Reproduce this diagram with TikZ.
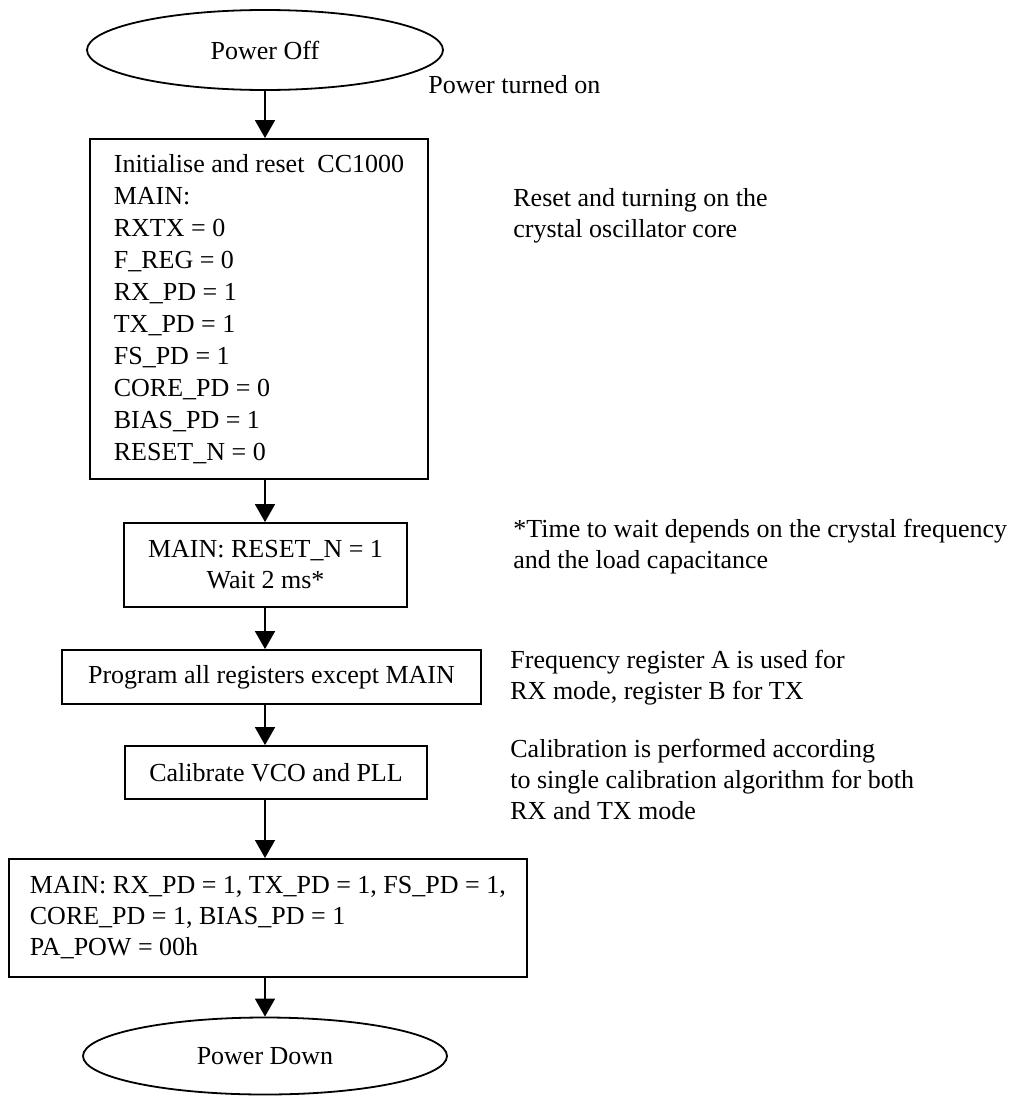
\documentclass[tikz,border=0pt]{standalone}
\usepackage{fontspec}
\setmainfont{Liberation Serif}
\usetikzlibrary{shapes.geometric,arrows.meta}
\tikzset{
   every path/.style={>={Triangle[width=10pt,length=9pt]}},
   flow/.style={->,line width=0.75pt},
   box/.style={draw,rectangle,line width=0.9pt,inner sep=0pt},
   term/.style={draw,ellipse,line width=0.9pt,inner sep=0pt},
   note/.style={anchor=north west,inner sep=0pt,align=left},
}

\begin{document}
\begin{tikzpicture}[x=0.5pt, y=-0.5pt, font=\fontsize{13}{15.5}\selectfont]
    \useasboundingbox (0,0) rectangle (1028,1097);

    \node[term, minimum width=178pt, minimum height=40pt] (poff) at (265,50) {Power Off};
    \node[note] (pon) at (428,75) {Power turned on};

    \node[box, minimum width=169pt, minimum height=170pt, align=left,
          font=\fontsize{13}{16}\selectfont] (init) at (259,309)
        {Initialise and reset~~CC1000\\MAIN:\\RXTX = 0\\F\_REG = 0\\RX\_PD = 1\\TX\_PD = 1\\
         FS\_PD = 1\\CORE\_PD = 0\\BIAS\_PD = 1\\RESET\_N = 0};
    \node[note] (initn) at (513,188) {Reset and turning on the\\crystal oscillator core};

    \node[box, minimum width=141.5pt, minimum height=42pt, align=center] (wait) at (265.5,565)
        {MAIN: RESET\_N = 1\\Wait 2 ms*};
    \node[note] (waitn) at (513,519)
        {*Time to wait depends on the crystal frequency\\and the load capacitance};

    \node[box, minimum width=209.5pt, minimum height=27pt] (prog) at (271.5,677)
        {Program all registers except MAIN};
    \node[note] (progn) at (510,650) {Frequency register A is used for\\RX mode, register B for TX};

    \node[box, minimum width=151pt, minimum height=26.5pt] (cal) at (276,772.5)
        {Calibrate VCO and PLL};
    \node[note] (caln) at (510,739)
        {Calibration is performed according\\to single calibration algorithm for both\\RX and TX mode};

    \node[box, anchor=north west, inner xsep=10.5pt, minimum height=59pt, align=left] (pd) at (8,858)
        {MAIN: RX\_PD = 1, TX\_PD = 1, FS\_PD = 1,\\CORE\_PD = 1, BIAS\_PD = 1\\PA\_POW = 00h};

    \node[term, minimum width=182pt, minimum height=38.5pt] (pdown) at (265,1056) {Power Down};

    \draw[flow] (poff.south) -- (poff.south |- init.north);
    \draw[flow] (poff.south |- init.south) -- (poff.south |- wait.north);
    \draw[flow] (poff.south |- wait.south) -- (poff.south |- prog.north);
    \draw[flow] (poff.south |- prog.south) -- (poff.south |- cal.north);
    \draw[flow] (poff.south |- cal.south) -- (poff.south |- pd.north);
    \draw[flow] (poff.south |- pd.south) -- (pdown.north);

\end{tikzpicture}
\end{document}
